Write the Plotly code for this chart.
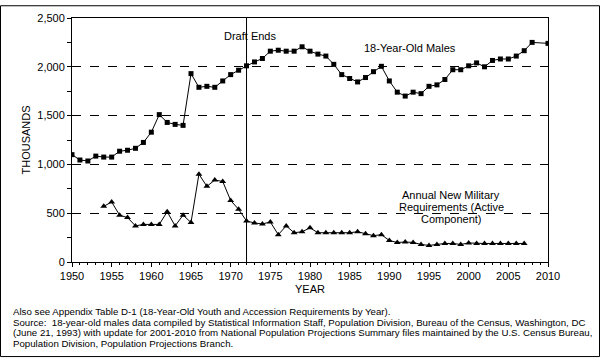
import plotly.graph_objects as go

# ---- data ----
male_years = list(range(1950, 2009)) + [2010]
male_values = [1100, 1045, 1035, 1085, 1075, 1075, 1135, 1145, 1165, 1225,
               1330, 1510, 1430, 1410, 1400, 1930, 1790, 1800, 1790, 1855,
               1920, 1965, 2010, 2050, 2085, 2160, 2170, 2160, 2160, 2205,
               2160, 2130, 2110, 2025, 1920, 1880, 1845, 1890, 1950, 2005,
               1855, 1740, 1700, 1740, 1725, 1800, 1815, 1870, 1970, 1970,
               2010, 2040, 2000, 2065, 2080, 2080, 2110, 2165, 2250, 2240]

mil_years = list(range(1954, 2008))
mil_values = [570, 615, 480, 455, 370, 385, 385, 385, 515, 370,
              480, 405, 900, 775, 840, 825, 630, 540, 420, 400,
              390, 410, 280, 370, 300, 310, 350, 300, 300, 300,
              300, 300, 310, 290, 270, 280, 220, 200, 205, 200,
              180, 170, 180, 190, 190, 180, 195, 190, 190, 190,
              190, 190, 190, 190]

draft_end_year = 1972
y_ticks = [0, 500, 1000, 1500, 2000, 2500]
footnotes = [
    "Also see Appendix Table D-1 (18-Year-Old Youth and Accession Requirements by Year).",
    "Source:  18-year-old males data compiled by Statistical Information Staff, Population Division, Bureau of the Census, Washington, DC",
    "(June 21, 1993) with update for 2001-2010 from National Population Projections Summary files maintained by the U.S. Census Bureau,",
    "Population Division, Population Projections Branch.",
]

# ---- layout geometry ----
W, H = 600, 359
L, R, T, B = 72, 52, 13, 97
PW, PH = W - L - R, H - T - B

def px(x, y):
    return (x - L) / PW, 1 - (y - T) / PH

FONT = "Arial, Liberation Sans, sans-serif"

fig = go.Figure()
fig.add_trace(go.Scatter(
    x=male_years, y=male_values, mode="lines+markers",
    line=dict(color="black", width=1),
    marker=dict(symbol="square", size=5, color="black"),
    showlegend=False, name="18-Year-Old Males"))
fig.add_trace(go.Scatter(
    x=mil_years, y=mil_values, mode="lines+markers",
    line=dict(color="black", width=1),
    marker=dict(symbol="triangle-up", size=6, color="black"),
    showlegend=False, name="Annual New Military Requirements"))

shapes = [
    dict(type="line", xref="x", yref="paper", x0=draft_end_year, x1=draft_end_year,
         y0=0, y1=1, line=dict(color="black", width=1)),
]
x0, y0 = px(0.5, H - 0.5)
x1, y1 = px(W - 0.5, 0.5)
shapes.append(dict(type="rect", xref="paper", yref="paper", x0=x0, y0=y0, x1=x1, y1=y1,
                   line=dict(color="black", width=1), fillcolor="rgba(0,0,0,0)"))

ann = []
def label(text, x, y, size=11, xanchor="center"):
    ax, ay = px(x, y)
    ann.append(dict(text=text, x=ax, y=ay, xref="paper", yref="paper",
                    showarrow=False, xanchor=xanchor, yanchor="middle",
                    align="center" if xanchor == "center" else "left",
                    font=dict(size=size, color="black", family=FONT)))

label("Draft Ends", 250, 31)
label("18-Year-Old Males", 410, 44)
label("Annual New Military", 451, 194)
label("Requirements (Active", 451, 206)
label("Component)", 451, 218)
for i, line in enumerate(footnotes):
    label(line, 11, 313 + i * 10.7, size=9.7, xanchor="left")

fig.update_layout(
    width=W, height=H, margin=dict(l=L, r=R, t=T, b=B),
    paper_bgcolor="white", plot_bgcolor="white",
    font=dict(family=FONT, size=11, color="black"),
    shapes=shapes, annotations=ann,
    xaxis=dict(range=[1950, 2010], tickmode="linear", tick0=1950, dtick=5,
               ticks="outside", ticklen=4, tickcolor="black", showgrid=False,
               showline=True, linecolor="black", linewidth=1, mirror=True,
               zeroline=False,
               minor=dict(dtick=1, ticks="outside", ticklen=2, tickcolor="black", showgrid=False),
               title=dict(text="YEAR", standoff=4, font=dict(size=11))),
    yaxis=dict(range=[0, 2500], tickvals=y_ticks, tickformat=",",
               ticks="outside", ticklen=4, tickcolor="black",
               showgrid=True, gridcolor="black", griddash="dash", gridwidth=1,
               showline=True, linecolor="black", linewidth=1, mirror=True,
               zeroline=False,
               minor=dict(dtick=250, ticks="outside", ticklen=4, tickcolor="black", showgrid=False),
               title=dict(text="THOUSANDS", standoff=4, font=dict(size=11))),
)

fig.write_html("out.html", config={"displayModeBar": False},
               post_script="document.body.style.margin='0';document.body.style.padding='0';")
